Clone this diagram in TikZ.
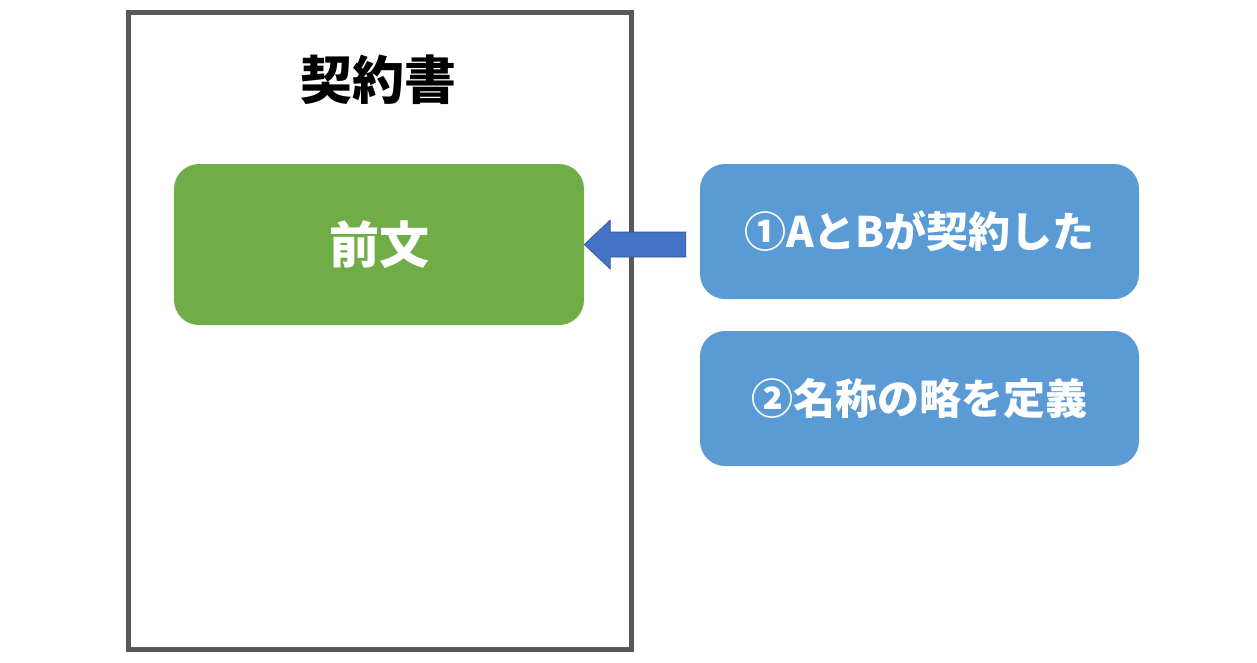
\documentclass[tikz,border=0pt]{standalone}
\usepackage{fontspec}
\setmainfont{Noto Sans CJK JP}
\usetikzlibrary{calc}
\definecolor{frame}{HTML}{595959}
\definecolor{green1}{HTML}{70AD47}
\definecolor{blue1}{HTML}{5B9BD5}
\definecolor{arrowfill}{HTML}{4472C4}
\definecolor{arrowline}{HTML}{2F528F}
\tikzset{
  greenbox/.style={fill=green1, rounded corners=25pt, minimum width=410pt, minimum height=161pt, inner sep=0pt, text=white, font=\fontsize{50}{58}\selectfont\bfseries},
  bluebox/.style={fill=blue1, rounded corners=25pt, minimum width=439pt, minimum height=135pt, inner sep=0pt, text=white, font=\fontsize{42}{50}\selectfont\bfseries},
  doc/.style={draw=frame, line width=5pt, minimum width=503pt, minimum height=637pt, inner sep=0pt},
  titletext/.style={font=\fontsize{52}{60}\selectfont\bfseries, text=black, inner sep=0pt},
  blockarrow/.style={fill=arrowfill, draw=arrowline, line width=0.6pt}
}
\begin{document}
\begin{tikzpicture}[x=1pt,y=-1pt]
\useasboundingbox (0,0) rectangle (1257,662);
\node[doc] (docbox) at (379.5,330.5) {};
\node[titletext] (title) at (378,80) {契約書};
\node[greenbox] (pre) at (379,244.5) {前文};
\node[bluebox] (b1) at (919.5,231.5) {①AとBが契約した};
\node[bluebox] (b2) at (919.5,398.5) {②名称の略を定義};
\coordinate (tip) at (pre.east);
\coordinate (tail) at ($(pre.east -| b1.west)+(-14,0)$);
\path[blockarrow] (tip) -- ($(tip)+(26,-24.5)$) -- ($(tip)+(26,-12.5)$) -- ($(tail)+(0,-12.5)$) -- ($(tail)+(0,12.5)$) -- ($(tip)+(26,12.5)$) -- ($(tip)+(26,24.5)$) -- cycle;
\end{tikzpicture}
\end{document}
